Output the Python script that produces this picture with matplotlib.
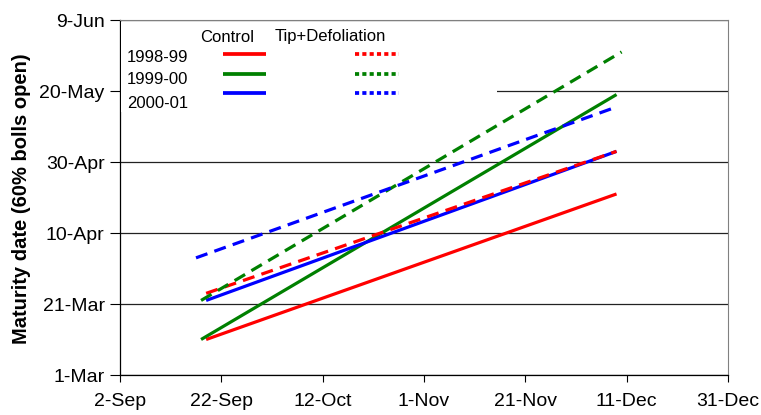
import matplotlib
matplotlib.use("Agg")
import matplotlib.pyplot as plt
import matplotlib.dates as mdates
from matplotlib.patches import Rectangle
from matplotlib.lines import Line2D
import pandas as pd

plt.rcParams['font.family'] = ['Liberation Sans', 'DejaVu Sans']

seasons = ["1998-99", "1999-00", "2000-01"]
colors = ["#ff0000", "#008000", "#0000ff"]

# sowing date (x) start/end and maturity date (y) start/end
control_x = [["2000-09-19", "2000-12-09"], ["2000-09-18", "2000-12-09"], ["2000-09-19", "2000-12-09"]]
control_y = [["2001-03-11", "2001-04-21"], ["2001-03-11", "2001-05-19"], ["2001-03-22", "2001-05-03"]]
tipdef_x = [["2000-09-19", "2000-12-09"], ["2000-09-18", "2000-12-10"], ["2000-09-17", "2000-12-08"]]
tipdef_y = [["2001-03-24", "2001-05-03"], ["2001-03-22", "2001-05-31"], ["2001-04-03", "2001-05-15"]]

xticks = pd.date_range("2000-09-02", "2000-12-31", freq="20D")
yticks = pd.date_range("2001-03-01", "2001-06-09", freq="20D")

W, H = 761, 415
fig = plt.figure(figsize=(W/100, H/100), dpi=100)
ax = fig.add_axes([120/W, (H-375)/H, 608/W, 355/H])

for i in range(3):
    ax.plot(pd.to_datetime(control_x[i]), pd.to_datetime(control_y[i]), color=colors[i],
            lw=2.3, solid_capstyle='butt', zorder=4)
for i in range(3):
    ax.plot(pd.to_datetime(tipdef_x[i]), pd.to_datetime(tipdef_y[i]), color=colors[i],
            lw=2.3, dashes=(3.8, 2.3), dash_capstyle='butt', zorder=4)

ax.set_xlim(xticks[0], xticks[-1])
ax.set_ylim(yticks[0], yticks[-1])
ax.set_xticks(xticks)
ax.set_yticks(yticks)
ax.xaxis.set_major_formatter(mdates.DateFormatter('%-d-%b'))
ax.yaxis.set_major_formatter(mdates.DateFormatter('%-d-%b'))
ax.tick_params(axis='both', labelsize=14, colors='black', width=0.8)
ax.tick_params(axis='x', direction='out', length=5, pad=8)
ax.tick_params(axis='y', direction='out', length=7, pad=4)
ax.grid(axis='y', color='#222222', lw=0.9, zorder=1)
ax.set_axisbelow(True)
for s in ['top', 'right']:
    ax.spines[s].set_color('#808080')
for s in ['left', 'bottom']:
    ax.spines[s].set_color('black')
    ax.spines[s].set_linewidth(0.9)

fig.text(22/W, 1 - ((42+355)/2)/H, "Maturity date (60% bolls open)", fontsize=14.5,
         fontweight='bold', rotation=90, ha='center', va='center')

# legend block (figure pixel coordinates)
def fx(x):
    return x / W

def fy(y):
    return 1 - y / H

fig.patches.append(Rectangle((fx(121), fy(112)), fx(497) - fx(121), fy(22) - fy(112),
                             transform=fig.transFigure, facecolor='white', edgecolor='none',
                             zorder=2))
fs = 12
fig.text(fx(200), fy(37), "Control", fontsize=fs, va='center', ha='left', zorder=3)
fig.text(fx(275), fy(37), "Tip+Defoliation", fontsize=fs, va='center', ha='left', zorder=3)
rows_y = [58, 80, 103]
line_y = [54, 74, 93]
for i in range(3):
    fig.text(fx(127), fy(rows_y[i]), seasons[i], fontsize=fs, va='center', ha='left', zorder=3)
    fig.add_artist(Line2D([fx(223), fx(266)], [fy(line_y[i])] * 2, transform=fig.transFigure,
                          color=colors[i], lw=2.7, solid_capstyle='butt', zorder=3))
    fig.add_artist(Line2D([fx(355), fx(399)], [fy(line_y[i])] * 2, transform=fig.transFigure,
                          color=colors[i], lw=2.7, dashes=(1.1, 0.85), dash_capstyle='butt',
                          zorder=3))

fig.savefig("out.png", dpi=100)
